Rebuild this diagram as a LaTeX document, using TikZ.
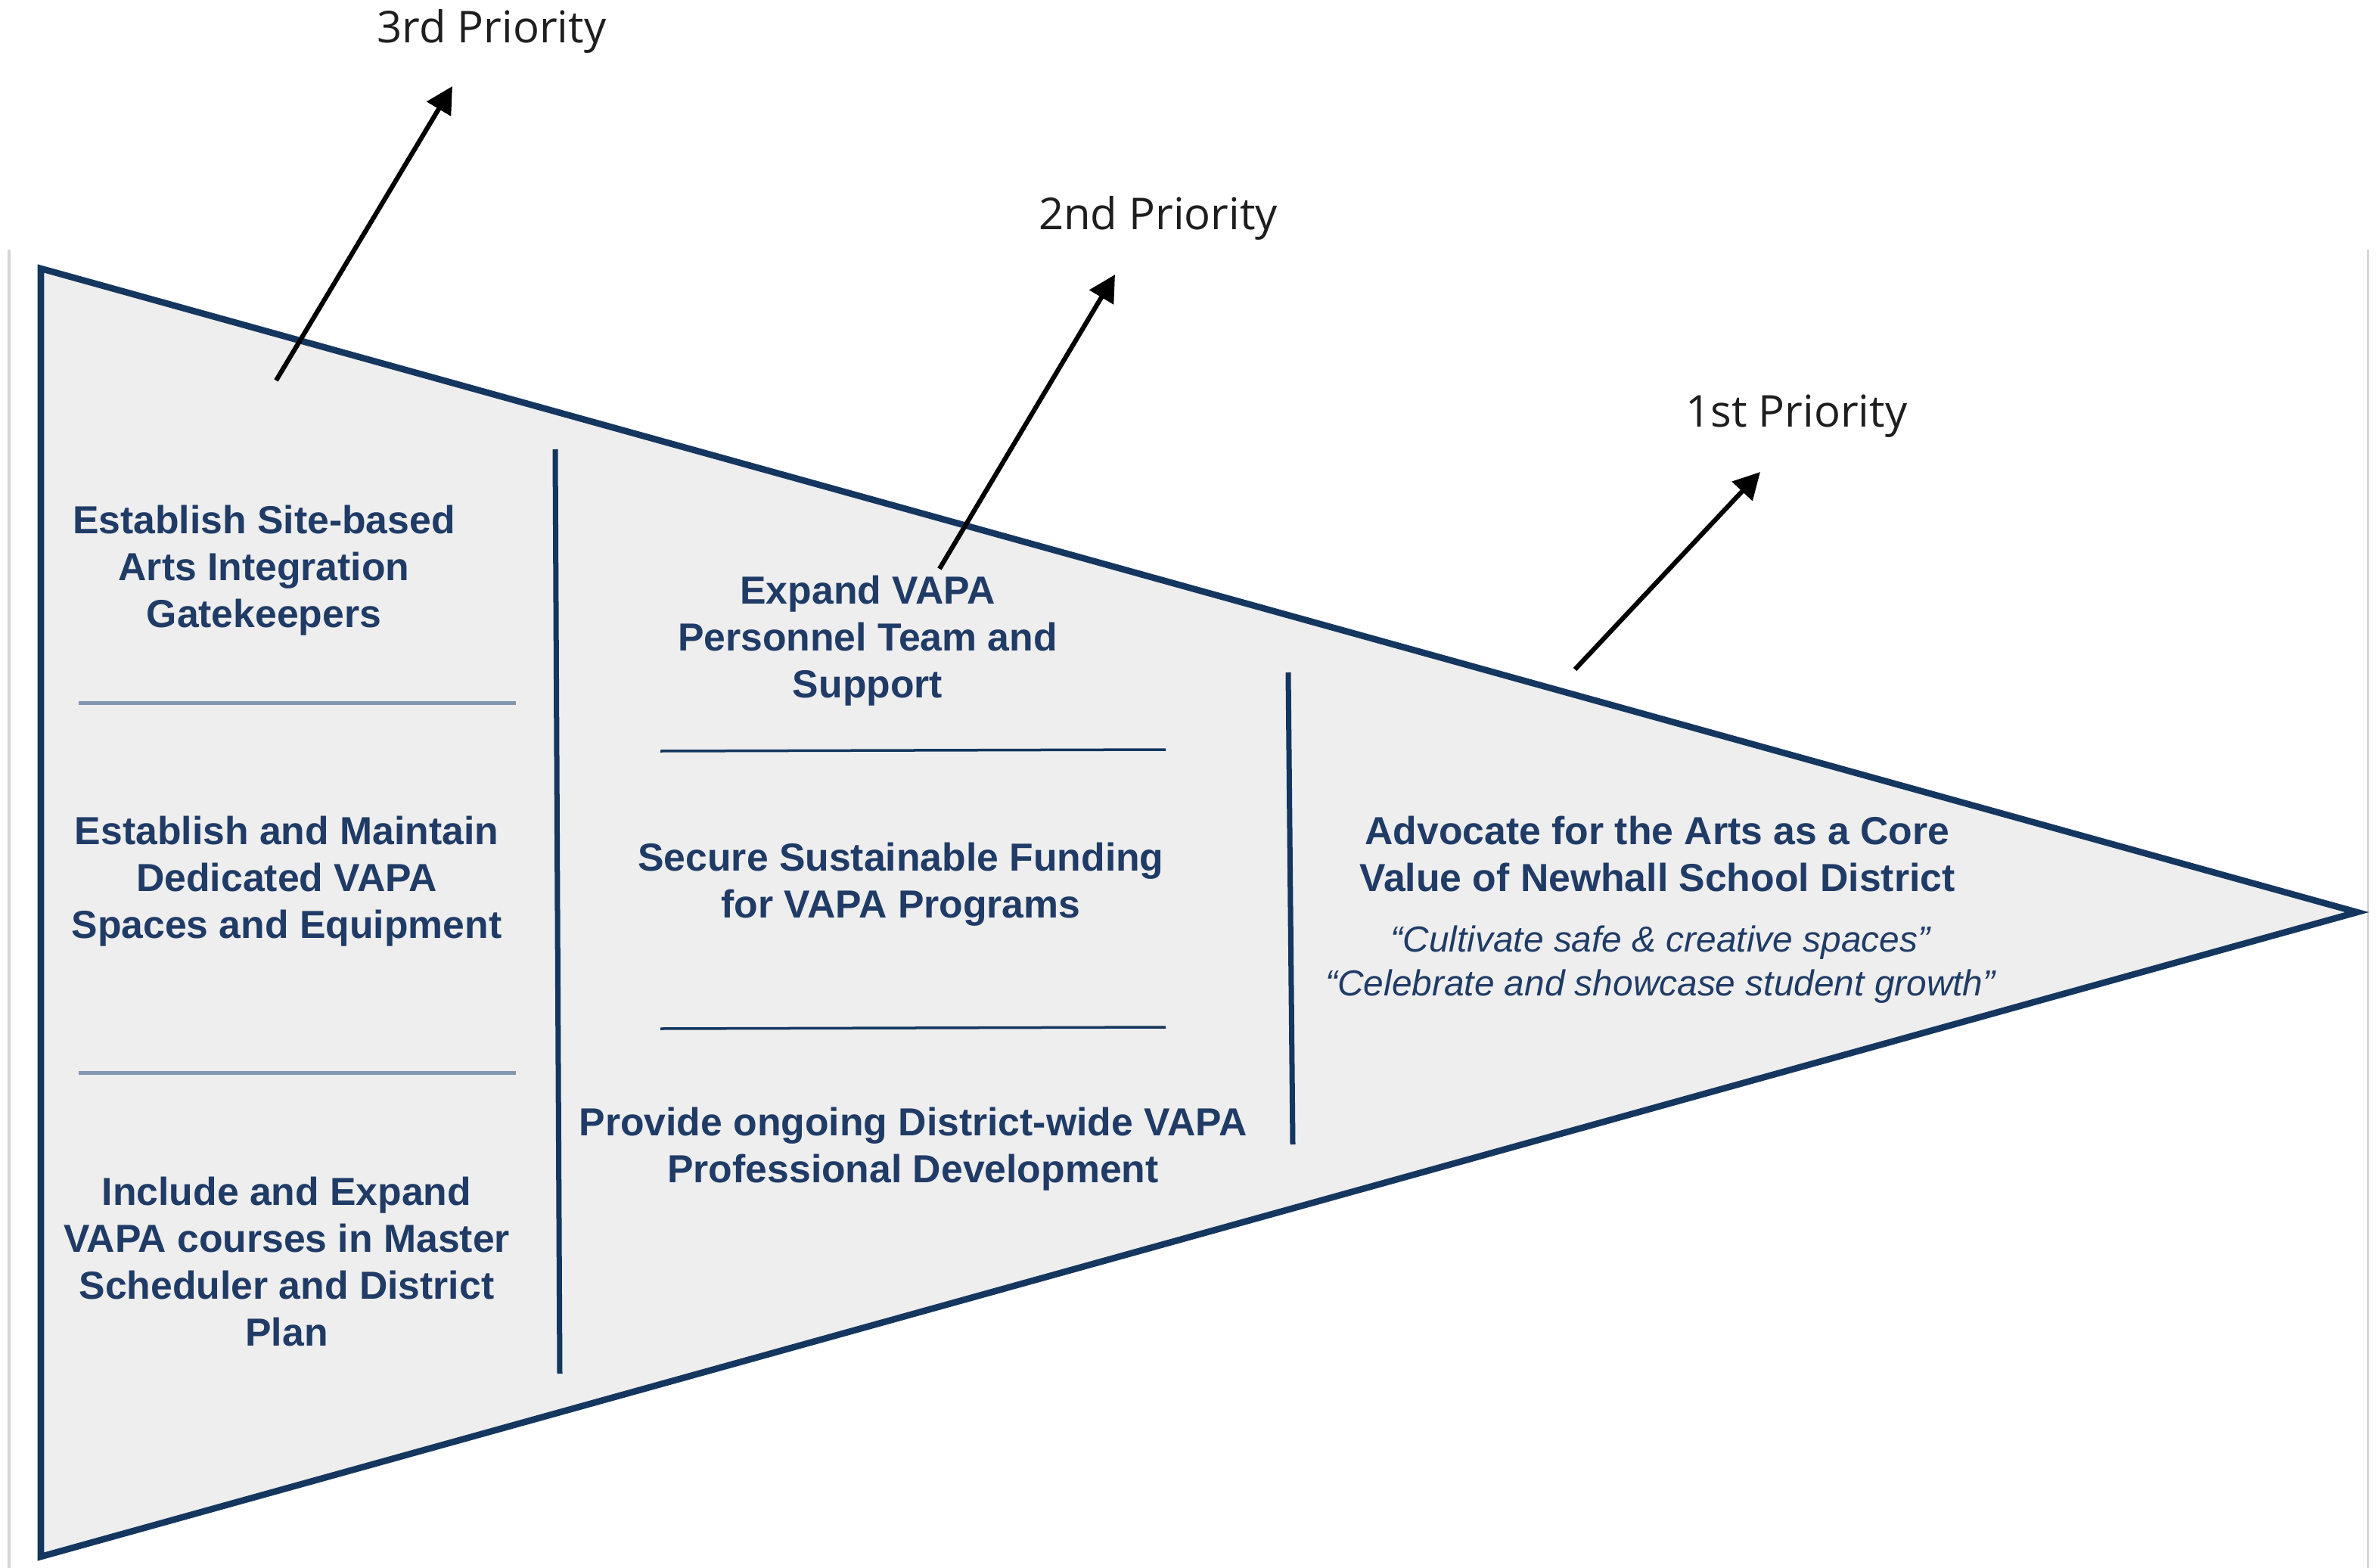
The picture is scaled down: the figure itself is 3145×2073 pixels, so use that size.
\documentclass[tikz,border=0pt]{standalone}
\usepackage{fontspec}
\setmainfont{Liberation Sans}
\newfontfamily\osans{Open Sans}
\usetikzlibrary{arrows.meta}
\definecolor{navy}{HTML}{14365F}
\definecolor{navytext}{HTML}{1F3B66}
\definecolor{fillgray}{HTML}{EEEEEE}
\definecolor{steel}{HTML}{8497B0}
\definecolor{edgegray}{HTML}{D6D6D6}
\definecolor{prioblack}{HTML}{1E1E1E}
\begin{document}
\begin{tikzpicture}[x=0.01cm,y=-0.01cm,
  boldtxt/.style={font=\fontsize{14.7}{17.6}\selectfont\bfseries, text=navytext, align=center, inner sep=0pt},
  itxt/.style={font=\fontsize{13.6}{16.5}\selectfont\itshape, text=navytext, align=center, inner sep=0pt},
  prio/.style={font=\osans\fontsize{16.5}{20}\selectfont, text=prioblack, inner sep=0pt},
  arr/.style={line width=0.062cm, black, -{Triangle[length=0.35cm,width=0.36cm]}},
  pennant/.style={draw=navy, fill=fillgray, line width=0.085cm},
  vdiv/.style={draw=navy, line width=0.07cm},
  ldiv/.style={draw=steel, line width=0.05cm},
  mdiv/.style={draw=navy, line width=0.035cm},
  edge/.style={draw=edgegray, line width=0.03cm}]
\useasboundingbox (0,0) rectangle (3145,2073);
% faint edge lines
\draw[edge] (12,330) -- (12,2073);
\draw[edge] (3130,330) -- (3130,2073);
% pennant
\coordinate (tl) at (54,355);
\coordinate (bl) at (54,2058);
\coordinate (tip) at (3116,1206);
\draw[pennant] (tl) -- (tip) -- (bl) -- cycle;
% dividers
\draw[vdiv] (734,594) -- (740,1816);
\draw[vdiv] (1703,889) -- (1709,1513);
\draw[ldiv] (104,929) -- (682,929);
\draw[ldiv] (104,1418) -- (682,1418);
\draw[mdiv] (873,993) -- (1541,991);
\draw[mdiv] (873,1360) -- (1541,1358);
% texts
\node[boldtxt] (t1) at (349,754) {Establish Site-based\\Arts Integration\\Gatekeepers};
\node[boldtxt] (t2) at (379,1165) {Establish and Maintain\\Dedicated VAPA\\Spaces and Equipment};
\node[boldtxt] (t3) at (379,1668) {Include and Expand\\VAPA courses in Master\\Scheduler and District\\Plan};
\node[boldtxt] (m1) at (1147,847) {Expand VAPA\\Personnel Team and\\Support};
\node[boldtxt] (m2) at (1191,1169) {Secure Sustainable Funding\\for VAPA Programs};
\node[boldtxt] (m3) at (1207,1519) {Provide ongoing District-wide VAPA\\Professional Development};
\node[boldtxt] (r1) at (2191,1129) {Advocate for the Arts as a Core\\Value of Newhall School District};
\node[itxt] (r2) at (2195,1275) {“Cultivate safe \& creative spaces”\\“Celebrate and showcase student growth”};
% priority labels
\node[prio] (p3) at (650,41) {3rd Priority};
\node[prio] (p2) at (1531,288) {2nd Priority};
\node[prio] (p1) at (2375,550) {1st Priority};
% arrows
\coordinate (a3s) at (365,503);
\coordinate (a3e) at (598,114);
\coordinate (a2s) at (1242,752);
\coordinate (a2e) at (1474,363);
\coordinate (a1s) at (2082,885);
\coordinate (a1e) at (2327,624);
\draw[arr] (a3s) -- (a3e);
\draw[arr] (a2s) -- (a2e);
\draw[arr] (a1s) -- (a1e);
\end{tikzpicture}
\end{document}
